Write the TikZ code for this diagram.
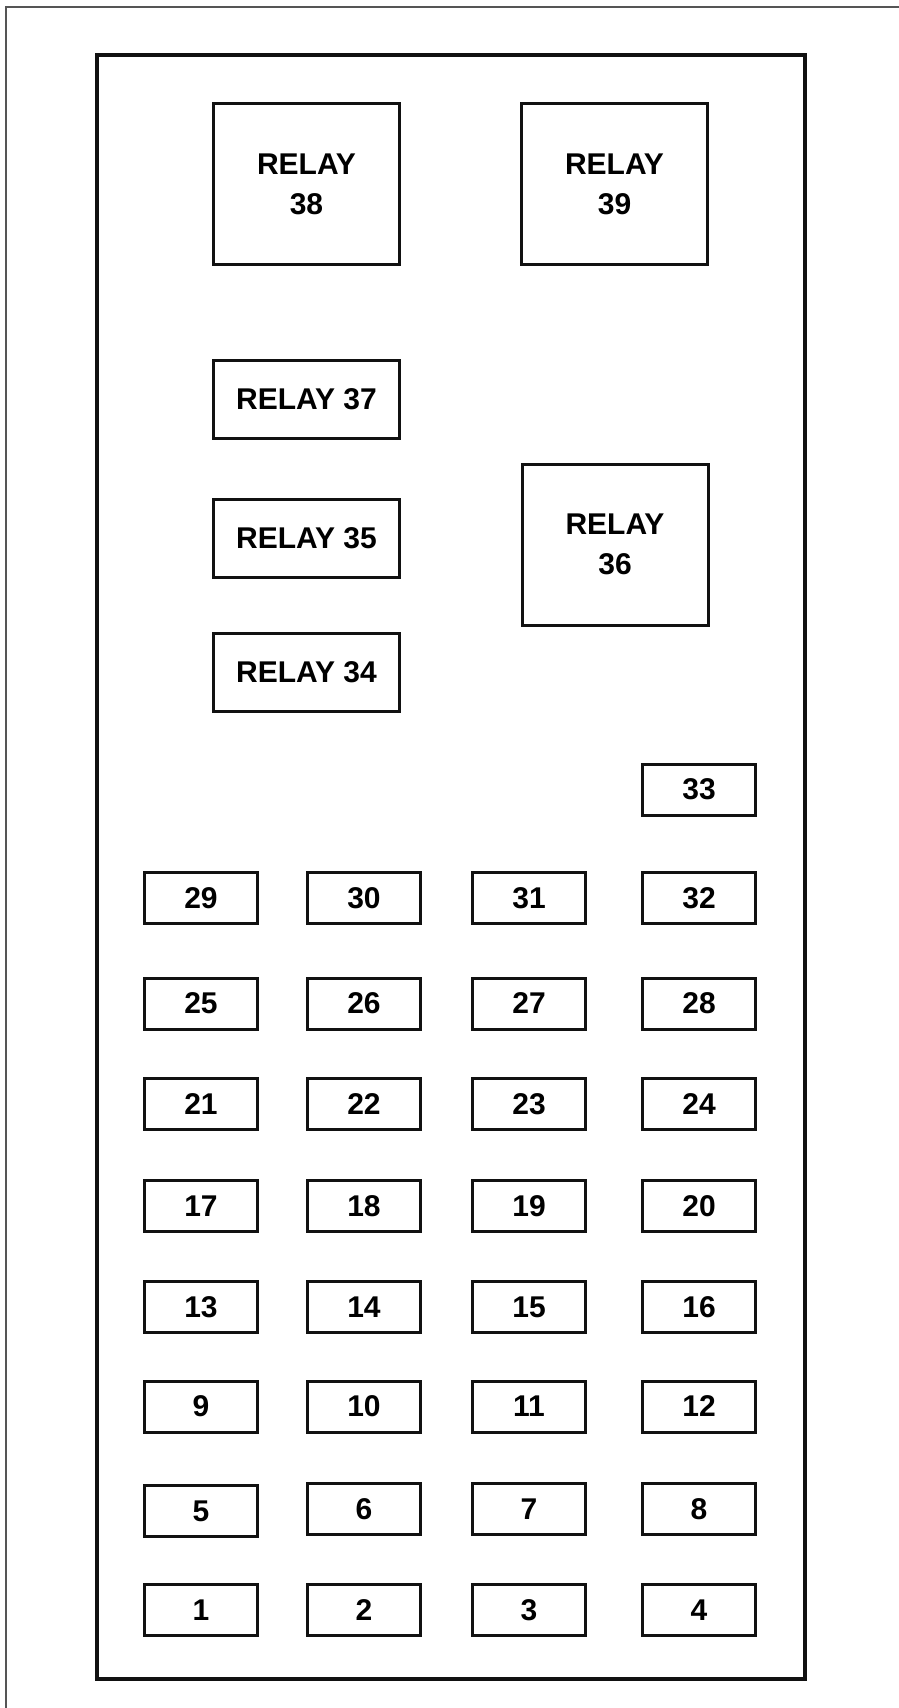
\documentclass[tikz,border=0pt]{standalone}
\usepackage{fontspec}
\setmainfont{Liberation Sans}
\usepackage{xcolor}
\definecolor{FrameGray}{HTML}{555555}
\definecolor{LineBlack}{HTML}{111111}

\begin{document}
\begin{tikzpicture}[
	x=1pt, y=-1pt, % work in pixels, y downwards
	% Style for the outer and inner frames
	outer frame/.style={
		draw=FrameGray,
		line width=2.2pt
	},
	panel frame/.style={
		draw=LineBlack,
		line width=4pt
	},
	% Styles for the relays and the fuses
	relay big/.style={
		rectangle,
		draw=LineBlack,
		line width=3pt,
		minimum width=186pt,
		minimum height=161pt,
		align=center,
		font=\fontsize{30}{40}\selectfont\bfseries
	},
	relay small/.style={
		rectangle,
		draw=LineBlack,
		line width=3pt,
		minimum width=186pt,
		minimum height=78pt,
		font=\fontsize{30}{40}\selectfont\bfseries
	},
	fuse/.style={
		rectangle,
		draw=LineBlack,
		line width=3pt,
		minimum width=113pt,
		minimum height=51pt,
		font=\fontsize{30}{36}\selectfont\bfseries
	}
	]
	
	\clip (0,0) rectangle (899,1708);
	
	% ================= FRAMES =================
	\draw[outer frame] (6,7) rectangle (930,1740);
	\draw[panel frame] (97,55) rectangle (805,1679);
	
	% ================= RELAYS =================
	\node[relay big]   (R38) at (306.5, 184.0) {RELAY\\38};
	\node[relay big]   (R39) at (614.5, 184.0) {RELAY\\39};
	\node[relay small] (R37) at (306.5, 399.5) {RELAY 37};
	\node[relay small] (R35) at (306.5, 538.0) {RELAY 35};
	\node[relay big]   (R36) at (615.0, 544.5) {RELAY\\36};
	\node[relay small] (R34) at (306.5, 672.5) {RELAY 34};
	
	% ================= FUSES =================
	\node[fuse] (F33) at (699, 789.5) {33};
	
	\node[fuse] (F29) at (201, 898.0) {29};
	\node[fuse] (F30) at (364, 898.0) {30};
	\node[fuse] (F31) at (529, 898.0) {31};
	\node[fuse] (F32) at (699, 898.0) {32};
	
	\node[fuse] (F25) at (201, 1003.5) {25};
	\node[fuse] (F26) at (364, 1003.5) {26};
	\node[fuse] (F27) at (529, 1003.5) {27};
	\node[fuse] (F28) at (699, 1003.5) {28};
	
	\node[fuse] (F21) at (201, 1104.0) {21};
	\node[fuse] (F22) at (364, 1104.0) {22};
	\node[fuse] (F23) at (529, 1104.0) {23};
	\node[fuse] (F24) at (699, 1104.0) {24};
	
	\node[fuse] (F17) at (201, 1206.0) {17};
	\node[fuse] (F18) at (364, 1206.0) {18};
	\node[fuse] (F19) at (529, 1206.0) {19};
	\node[fuse] (F20) at (699, 1206.0) {20};
	
	\node[fuse] (F13) at (201, 1307.0) {13};
	\node[fuse] (F14) at (364, 1307.0) {14};
	\node[fuse] (F15) at (529, 1307.0) {15};
	\node[fuse] (F16) at (699, 1307.0) {16};
	
	\node[fuse] (F9)  at (201, 1406.5) {9};
	\node[fuse] (F10) at (364, 1406.5) {10};
	\node[fuse] (F11) at (529, 1406.5) {11};
	\node[fuse] (F12) at (699, 1406.5) {12};
	
	\node[fuse] (F5)  at (201, 1511.0) {5};
	\node[fuse] (F6)  at (364, 1509.0) {6};
	\node[fuse] (F7)  at (529, 1509.0) {7};
	\node[fuse] (F8)  at (699, 1509.0) {8};
	
	\node[fuse] (F1)  at (201, 1610.0) {1};
	\node[fuse] (F2)  at (364, 1610.0) {2};
	\node[fuse] (F3)  at (529, 1610.0) {3};
	\node[fuse] (F4)  at (699, 1610.0) {4};
	
\end{tikzpicture}
\end{document}
